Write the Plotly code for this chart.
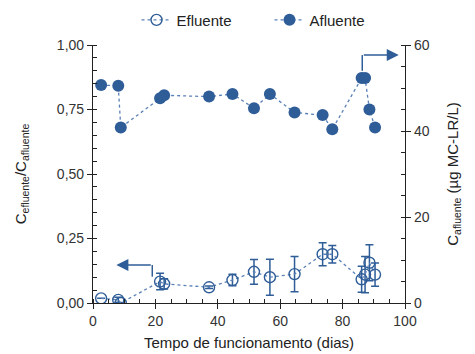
import plotly.graph_objects as go

days = [2.6, 8.1, 8.9, 21.5, 22.8, 37.2, 44.7, 51.6, 56.7, 64.6, 73.6, 76.7, 86.1, 87.2, 88.6, 90.4]
afluente = [50.7, 50.5, 40.8, 47.6, 48.3, 48.0, 48.6, 45.3, 48.6, 44.3, 43.7, 40.4, 52.3, 52.3, 45.0, 40.8]
efluente = [0.018, 0.012, 0.0, 0.083, 0.074, 0.061, 0.089, 0.121, 0.100, 0.112, 0.189, 0.189, 0.092, 0.110, 0.156, 0.110]
efluente_err = [0.0, 0.01, 0.0, 0.032, 0.02, 0.005, 0.022, 0.048, 0.07, 0.068, 0.045, 0.034, 0.05, 0.07, 0.07, 0.045]

x_ticks = [0, 20, 40, 60, 80, 100]
left_ticks = [0, 0.25, 0.5, 0.75, 1.0]
left_labels = ["0,00", "0,25", "0,50", "0,75", "1,00"]
right_ticks = [0, 20, 40, 60]

blue = "#2F5D98"
line_blue = "#5A80B8"
font = "Liberation Sans, Arial, sans-serif"

fig = go.Figure()
fig.add_trace(go.Scatter(
    x=days, y=efluente, name="Efluente", mode="lines+markers",
    line=dict(color=line_blue, width=1.3, dash="dot"),
    marker=dict(symbol="circle-open", size=11, color=blue, line=dict(width=1.4, color=blue)),
    error_y=dict(type="data", array=efluente_err, color=blue, thickness=1.5, width=4),
    yaxis="y"))
fig.add_trace(go.Scatter(
    x=days, y=afluente, name="Afluente", mode="lines+markers",
    line=dict(color=line_blue, width=1.3, dash="dot"),
    marker=dict(symbol="circle", size=12, color=blue),
    yaxis="y2"))
# invisible helpers so the inner-tick axes are drawn
fig.add_trace(go.Scatter(x=[None], y=[None], xaxis="x2", yaxis="y3", showlegend=False, hoverinfo="skip"))
fig.add_trace(go.Scatter(x=[None], y=[None], xaxis="x2", yaxis="y4", showlegend=False, hoverinfo="skip"))

# arrows
fig.add_shape(type="line", xref="x", yref="y", x0=19, y0=0.147, x1=19, y1=0.102,
              line=dict(color=blue, width=1.5))
fig.add_annotation(x=7.5, y=0.147, ax=19, ay=0.147, xref="x", yref="y", axref="x", ayref="y",
                   text="", showarrow=True, arrowhead=2, arrowsize=1.6, arrowwidth=1.5, arrowcolor=blue)
fig.add_shape(type="line", xref="x", yref="y", x0=86.3, y0=0.90, x1=86.3, y1=0.961,
              line=dict(color=blue, width=1.5))
fig.add_annotation(x=98, y=0.961, ax=86.3, ay=0.961, xref="x", yref="y", axref="x", ayref="y",
                   text="", showarrow=True, arrowhead=2, arrowsize=1.6, arrowwidth=1.5, arrowcolor=blue)

axis_common = dict(showline=True, linecolor="#222", linewidth=1.2, showgrid=False, zeroline=False,
                   tickfont=dict(family=font, size=14, color="#333"), ticks="outside",
                   ticklen=5, tickcolor="#222", automargin=False)
inner_common = dict(showline=False, showgrid=False, zeroline=False, showticklabels=False,
                    ticks="inside", ticklen=4, tickcolor="#222", automargin=False)

fig.update_layout(
    width=467, height=346,
    margin=dict(l=85, r=70, t=37, b=51),
    paper_bgcolor="white", plot_bgcolor="white",
    font=dict(family=font, size=14, color="#333"),
    showlegend=True,
    legend=dict(orientation="h", xref="container", yref="container",
                x=0.56, xanchor="center", y=0.965, yanchor="middle",
                entrywidth=88, entrywidthmode="pixels",
                font=dict(size=15, color="#222"), bgcolor="rgba(0,0,0,0)"),
    xaxis=dict(range=[0, 100], tickvals=x_ticks,
               minor=dict(dtick=5, ticks="inside", ticklen=4, tickcolor="#222"),
               title=dict(text="Tempo de funcionamento (dias)", font=dict(size=15, color="#222"), standoff=9),
               **axis_common),
    xaxis2=dict(range=[0, 100], tickvals=x_ticks, overlaying="x", side="bottom", anchor="y3", **inner_common),
    yaxis=dict(range=[0, 1], tickvals=left_ticks, ticktext=left_labels,
               minor=dict(dtick=0.05, ticks="inside", ticklen=4, tickcolor="#222"),
               title=dict(text="C<sub>efluente</sub>/C<sub>afluente</sub>", font=dict(size=15, color="#222"), standoff=26),
               **axis_common),
    yaxis2=dict(range=[0, 60], tickvals=right_ticks, overlaying="y", side="right",
                minor=dict(dtick=5, ticks="inside", ticklen=4, tickcolor="#222"),
                title=dict(text="C<sub>afluente</sub> (µg MC-LR/L)", font=dict(size=15, color="#222"), standoff=18),
                **axis_common),
    yaxis3=dict(range=[0, 1], tickvals=left_ticks, overlaying="y", side="left", anchor="x2", **inner_common),
    yaxis4=dict(range=[0, 60], tickvals=right_ticks, overlaying="y", side="right", anchor="x2", **inner_common),
)
fig.write_html("out.html")
